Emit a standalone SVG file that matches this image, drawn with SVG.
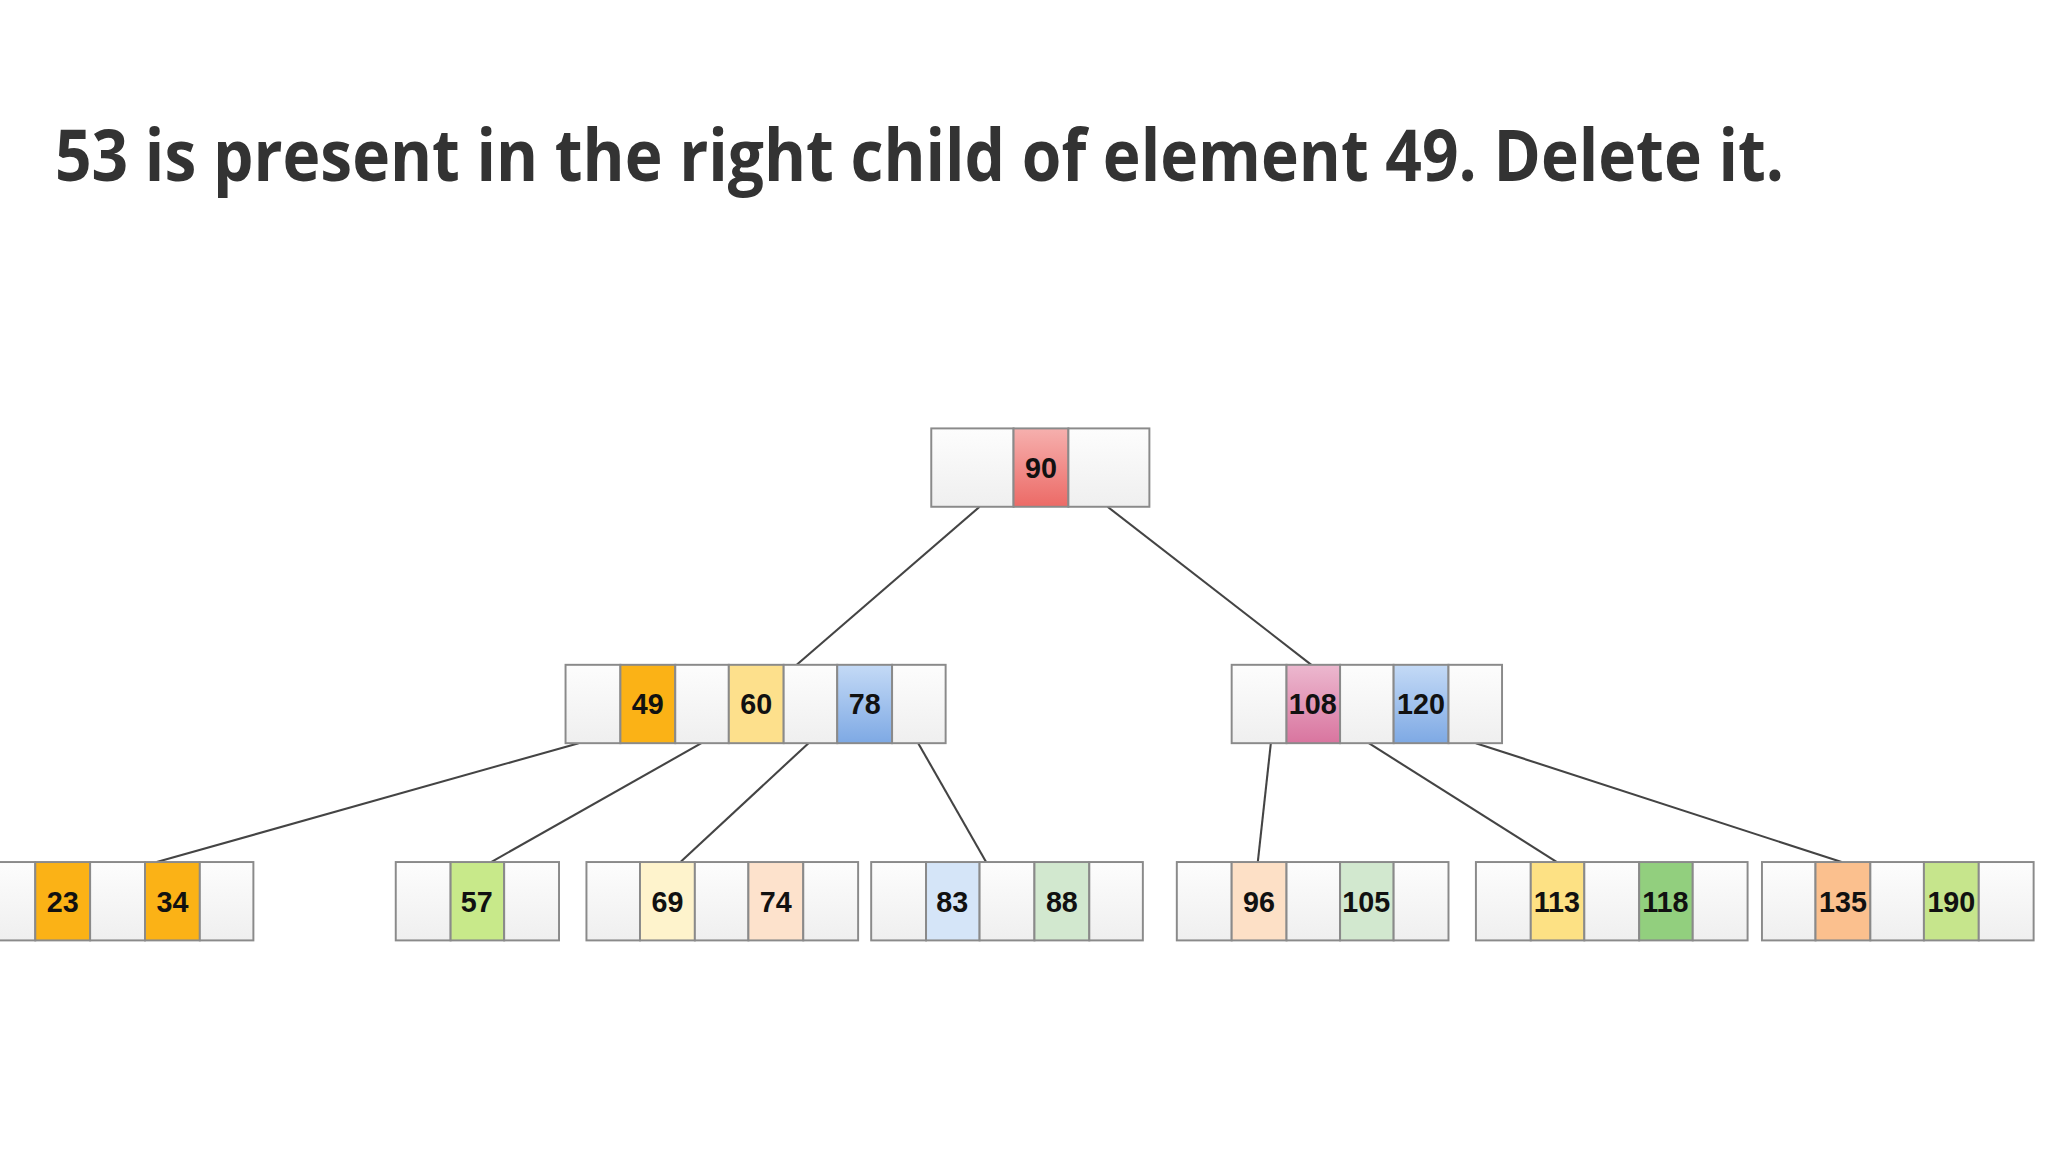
<svg xmlns="http://www.w3.org/2000/svg" width="2048" height="1152" viewBox="0 0 2048 1152">
<defs>
<linearGradient id="e" x1="0" y1="0" x2="0" y2="1"><stop offset="0" stop-color="#fdfdfd"/><stop offset="1" stop-color="#efefef"/></linearGradient>
<linearGradient id="red" x1="0" y1="0" x2="0" y2="1"><stop offset="0" stop-color="#f6b0ae"/><stop offset="1" stop-color="#ec6a66"/></linearGradient>
<linearGradient id="blue" x1="0" y1="0" x2="0" y2="1"><stop offset="0" stop-color="#c4daf6"/><stop offset="1" stop-color="#7ea9e4"/></linearGradient>
<linearGradient id="pink" x1="0" y1="0" x2="0" y2="1"><stop offset="0" stop-color="#ecb8cf"/><stop offset="1" stop-color="#d9759f"/></linearGradient>
<style>
.c{stroke:#8a8a8a;stroke-width:1.5}
.em{fill:url(#e)}
.t{font-family:"Liberation Sans",Arial,sans-serif;font-weight:bold;font-size:22px;fill:#111;text-anchor:middle}
.l{stroke:#444;stroke-width:1.6;fill:none}
</style>
</defs>
<rect width="2048" height="1152" fill="#fff"/>
<text x="55" y="181" font-family="'Open Sans','Liberation Sans',sans-serif" font-weight="bold" font-size="72" fill="#333" textLength="1729" lengthAdjust="spacingAndGlyphs">53 is present in the right child of element 49. Delete it.</text>
<g transform="scale(1.30612)">
<g id="connectors">
<line class="l" x1="750" y1="388" x2="610" y2="509"/>
<line class="l" x1="848" y1="388" x2="1004" y2="509"/>
<line class="l" x1="443" y1="569" x2="120" y2="660"/>
<line class="l" x1="537" y1="569" x2="376" y2="660"/>
<line class="l" x1="619" y1="569" x2="521" y2="660"/>
<line class="l" x1="703" y1="569" x2="755" y2="660"/>
<line class="l" x1="973" y1="569" x2="963" y2="660"/>
<line class="l" x1="1048" y1="569" x2="1192" y2="660"/>
<line class="l" x1="1130" y1="569" x2="1410" y2="660"/>
</g>
<g id="root">
<rect class="c em" x="713" y="328" width="63" height="60"/>
<rect class="c" fill="url(#red)" x="776" y="328" width="42" height="60"/>
<rect class="c em" x="818" y="328" width="62" height="60"/>
<text class="t" x="797" y="366">90</text>
</g>
<g id="n49">
<rect class="c em" x="433" y="509" width="42" height="60"/>
<rect class="c" fill="#fbb216" x="475" y="509" width="42" height="60"/>
<rect class="c em" x="517" y="509" width="41" height="60"/>
<rect class="c" fill="#fde08c" x="558" y="509" width="42" height="60"/>
<rect class="c em" x="600" y="509" width="41" height="60"/>
<rect class="c" fill="url(#blue)" x="641" y="509" width="42" height="60"/>
<rect class="c em" x="683" y="509" width="41" height="60"/>
<text class="t" x="496" y="547">49</text><text class="t" x="579" y="547">60</text><text class="t" x="662" y="547">78</text>
</g>
<g id="n108">
<rect class="c em" x="943" y="509" width="42" height="60"/>
<rect class="c" fill="url(#pink)" x="985" y="509" width="41" height="60"/>
<rect class="c em" x="1026" y="509" width="41" height="60"/>
<rect class="c" fill="url(#blue)" x="1067" y="509" width="42" height="60"/>
<rect class="c em" x="1109" y="509" width="41" height="60"/>
<text class="t" x="1005" y="547">108</text><text class="t" x="1088" y="547">120</text>
</g>
<g id="leaf1">
<rect class="c em" x="-15" y="660" width="42" height="60"/>
<rect class="c" fill="#fbb216" x="27" y="660" width="42" height="60"/>
<rect class="c em" x="69" y="660" width="42" height="60"/>
<rect class="c" fill="#fbb216" x="111" y="660" width="42" height="60"/>
<rect class="c em" x="153" y="660" width="41" height="60"/>
<text class="t" x="48" y="698">23</text><text class="t" x="132" y="698">34</text>
</g>
<g id="leaf2">
<rect class="c em" x="303" y="660" width="42" height="60"/>
<rect class="c" fill="#c8e98a" x="345" y="660" width="41" height="60"/>
<rect class="c em" x="386" y="660" width="42" height="60"/>
<text class="t" x="365" y="698">57</text>
</g>
<g id="leaf3">
<rect class="c em" x="449" y="660" width="41" height="60"/>
<rect class="c" fill="#fef3cc" x="490" y="660" width="42" height="60"/>
<rect class="c em" x="532" y="660" width="41" height="60"/>
<rect class="c" fill="#fde2cc" x="573" y="660" width="42" height="60"/>
<rect class="c em" x="615" y="660" width="42" height="60"/>
<text class="t" x="511" y="698">69</text><text class="t" x="594" y="698">74</text>
</g>
<g id="leaf4">
<rect class="c em" x="667" y="660" width="42" height="60"/>
<rect class="c" fill="#d5e5f8" x="709" y="660" width="41" height="60"/>
<rect class="c em" x="750" y="660" width="42" height="60"/>
<rect class="c" fill="#d2e8cf" x="792" y="660" width="42" height="60"/>
<rect class="c em" x="834" y="660" width="41" height="60"/>
<text class="t" x="729" y="698">83</text><text class="t" x="813" y="698">88</text>
</g>
<g id="leaf5">
<rect class="c em" x="901" y="660" width="42" height="60"/>
<rect class="c" fill="#fde0c6" x="943" y="660" width="42" height="60"/>
<rect class="c em" x="985" y="660" width="41" height="60"/>
<rect class="c" fill="#d2e8cf" x="1026" y="660" width="41" height="60"/>
<rect class="c em" x="1067" y="660" width="42" height="60"/>
<text class="t" x="964" y="698">96</text><text class="t" x="1046" y="698">105</text>
</g>
<g id="leaf6">
<rect class="c em" x="1130" y="660" width="42" height="60"/>
<rect class="c" fill="#fde184" x="1172" y="660" width="41" height="60"/>
<rect class="c em" x="1213" y="660" width="42" height="60"/>
<rect class="c" fill="#92cf7e" x="1255" y="660" width="41" height="60"/>
<rect class="c em" x="1296" y="660" width="42" height="60"/>
<text class="t" x="1192" y="698">113</text><text class="t" x="1275" y="698">118</text>
</g>
<g id="leaf7">
<rect class="c em" x="1349" y="660" width="41" height="60"/>
<rect class="c" fill="#fbc08e" x="1390" y="660" width="42" height="60"/>
<rect class="c em" x="1432" y="660" width="41" height="60"/>
<rect class="c" fill="#c6e58c" x="1473" y="660" width="42" height="60"/>
<rect class="c em" x="1515" y="660" width="42" height="60"/>
<text class="t" x="1411" y="698">135</text><text class="t" x="1494" y="698">190</text>
</g>
</g>
</svg>
